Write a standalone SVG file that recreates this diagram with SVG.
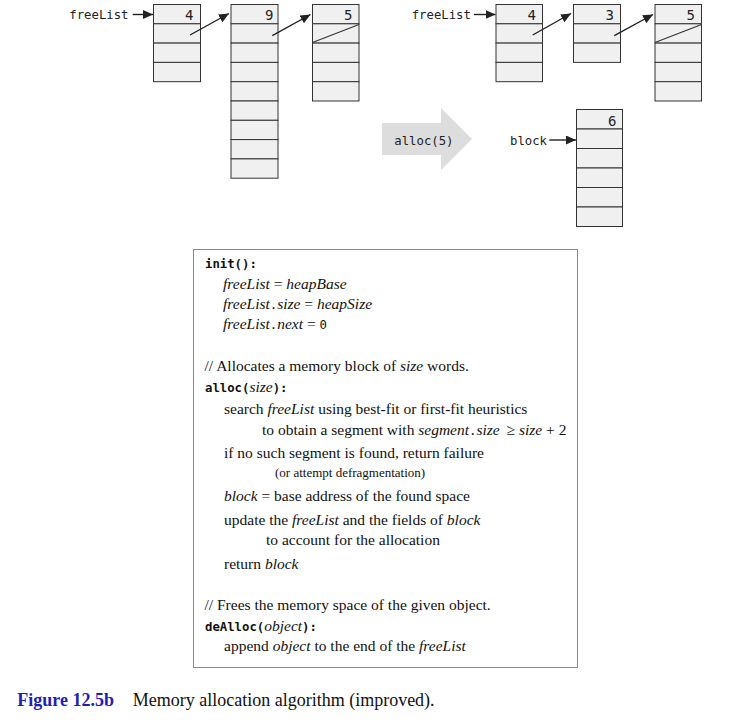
<svg xmlns="http://www.w3.org/2000/svg" width="730" height="722" viewBox="0 0 730 722">
<style>
.cell{fill:#f0f0f0;stroke:#333;stroke-width:1}
.mono{font-family:"DejaVu Sans Mono","Liberation Mono",monospace;font-size:12.3px;fill:#222}
.num{font-family:"DejaVu Sans Mono","Liberation Mono",monospace;font-size:14px;fill:#222;text-anchor:end}
.ser{font-family:"Liberation Serif","Times New Roman",serif;font-size:15.5px;fill:#111}
.sm{font-size:13px}
.it{font-style:italic}
.b{font-family:"DejaVu Sans Mono","Liberation Mono",monospace;font-size:12.3px;font-weight:bold}
.m{font-family:"DejaVu Sans Mono","Liberation Mono",monospace;font-size:12.3px}
.ptr{stroke:#222;stroke-width:1.4;fill:none}
.slash{stroke:#333;stroke-width:1.2;fill:none}
</style>
<defs>
<marker id="ah" markerUnits="userSpaceOnUse" markerWidth="11" markerHeight="10" refX="10" refY="4.5" orient="auto">
<path d="M0,0 L10,4.5 L0,9 Z" fill="#222"/>
</marker>
</defs>

<!-- left list -->
<g id="label-freelist-1"><text class="mono" x="69.3" y="18.5">freeList</text></g>
<g id="seg1">
<rect class="cell" x="153.5" y="4.5" width="47" height="19.3"/>
<rect class="cell" x="153.5" y="23.8" width="47" height="19.3"/>
<rect class="cell" x="153.5" y="43.1" width="47" height="19.3"/>
<rect class="cell" x="153.5" y="62.4" width="47" height="19.3"/>
<text class="num" x="193.5" y="19.5">4</text>
</g>
<g id="seg2">
<rect class="cell" x="231" y="4.5" width="47" height="19.3"/>
<rect class="cell" x="231" y="23.8" width="47" height="19.3"/>
<rect class="cell" x="231" y="43.1" width="47" height="19.3"/>
<rect class="cell" x="231" y="62.4" width="47" height="19.3"/>
<rect class="cell" x="231" y="81.7" width="47" height="19.3"/>
<rect class="cell" x="231" y="101" width="47" height="19.3"/>
<rect class="cell" x="231" y="120.3" width="47" height="19.3"/>
<rect class="cell" x="231" y="139.6" width="47" height="19.3"/>
<rect class="cell" x="231" y="158.9" width="47" height="19.3"/>
<text class="num" x="273.5" y="19.5">9</text>
</g>
<g id="seg3">
<rect class="cell" x="312.5" y="4.5" width="46.5" height="19.3"/>
<rect class="cell" x="312.5" y="23.8" width="46.5" height="19.3"/>
<rect class="cell" x="312.5" y="43.1" width="46.5" height="19.3"/>
<rect class="cell" x="312.5" y="62.4" width="46.5" height="19.3"/>
<rect class="cell" x="312.5" y="81.7" width="46.5" height="19.3"/>
<text class="num" x="352.5" y="19.5">5</text>
<line class="slash" x1="312.5" y1="42.5" x2="359" y2="24.5"/>
</g>

<!-- right list -->
<g id="label-freelist-2"><text class="mono" x="411.7" y="18.5">freeList</text></g>
<g id="segA">
<rect class="cell" x="496" y="4.5" width="46.5" height="19.3"/>
<rect class="cell" x="496" y="23.8" width="46.5" height="19.3"/>
<rect class="cell" x="496" y="43.1" width="46.5" height="19.3"/>
<rect class="cell" x="496" y="62.4" width="46.5" height="19.3"/>
<text class="num" x="536" y="19.5">4</text>
</g>
<g id="segB">
<rect class="cell" x="573.5" y="4.5" width="47" height="19.3"/>
<rect class="cell" x="573.5" y="23.8" width="47" height="19.3"/>
<rect class="cell" x="573.5" y="43.1" width="47" height="19.3"/>
<text class="num" x="614" y="19.5">3</text>
</g>
<g id="segC">
<rect class="cell" x="655" y="4.5" width="46.5" height="19.3"/>
<rect class="cell" x="655" y="23.8" width="46.5" height="19.3"/>
<rect class="cell" x="655" y="43.1" width="46.5" height="19.3"/>
<rect class="cell" x="655" y="62.4" width="46.5" height="19.3"/>
<rect class="cell" x="655" y="81.7" width="46.5" height="19.3"/>
<text class="num" x="695" y="19.5">5</text>
<line class="slash" x1="655" y1="42.5" x2="701.5" y2="24.5"/>
</g>

<!-- alloc arrow -->
<g id="alloc-arrow">
<polygon points="382,123 441,123 441,108 472,139 441,170 441,155 382,155" fill="#dddddd"/>
<text class="mono" x="394.3" y="144.5">alloc(5)</text>
</g>

<g id="label-block"><text class="mono" x="510" y="144.5">block</text></g>
<g id="block">
<rect class="cell" x="576.5" y="109.5" width="46" height="19.5"/>
<rect class="cell" x="576.5" y="129" width="46" height="19.5"/>
<rect class="cell" x="576.5" y="148.5" width="46" height="19.5"/>
<rect class="cell" x="576.5" y="168" width="46" height="19.5"/>
<rect class="cell" x="576.5" y="187.5" width="46" height="19.5"/>
<rect class="cell" x="576.5" y="207" width="46" height="19.5"/>
<text class="num" x="616.5" y="125.5">6</text>
</g>

<g id="connectors">
<line class="ptr" x1="132.7" y1="14.5" x2="153" y2="14.5" marker-end="url(#ah)"/>
<line class="ptr" x1="190" y1="35" x2="229" y2="13.5" marker-end="url(#ah)"/>
<line class="ptr" x1="272.3" y1="35.7" x2="310.5" y2="14.5" marker-end="url(#ah)"/>
<line class="ptr" x1="474" y1="14.5" x2="495.5" y2="14.5" marker-end="url(#ah)"/>
<line class="ptr" x1="532.7" y1="35" x2="571" y2="13.5" marker-end="url(#ah)"/>
<line class="ptr" x1="614.3" y1="35.7" x2="653" y2="14.5" marker-end="url(#ah)"/>
<line class="ptr" x1="549.3" y1="140" x2="576" y2="140" marker-end="url(#ah)"/>
</g>

<!-- code box -->
<g id="code">
<rect x="193.5" y="249.5" width="384" height="418" fill="#ffffff" stroke="#8a8a8a" stroke-width="1"/>
<text class="b" x="205" y="268" fill="#111">init():</text>
<text class="ser" x="223" y="289"><tspan class="it">freeList</tspan> = <tspan class="it">heapBase</tspan></text>
<text class="ser" x="223" y="309"><tspan class="it">freeList</tspan><tspan class="m">.</tspan><tspan class="it">size</tspan> = <tspan class="it">heapSize</tspan></text>
<text class="ser" x="223" y="329"><tspan class="it">freeList</tspan><tspan class="m">.</tspan><tspan class="it">next</tspan> = <tspan class="m">0</tspan></text>
<text class="ser" x="204.5" y="371">// Allocates a memory block of <tspan class="it">size</tspan> words.</text>
<text class="ser" x="205" y="392"><tspan class="b">alloc(</tspan><tspan class="it">size</tspan><tspan class="b">):</tspan></text>
<text class="ser" x="224" y="414">search <tspan class="it">freeList</tspan> using best-fit or first-fit heuristics</text>
<text class="ser" x="262" y="435">to obtain a segment with <tspan class="it">segment</tspan><tspan class="m">.</tspan><tspan class="it">size</tspan> <tspan dx="3">≥</tspan> <tspan class="it">size</tspan> + 2</text>
<text class="ser" x="224" y="458">if no such segment is found, return failure</text>
<text class="ser sm" x="275" y="477">(or attempt defragmentation)</text>
<text class="ser" x="224" y="501"><tspan class="it">block</tspan> = base address of the found space</text>
<text class="ser" x="224" y="525">update the <tspan class="it">freeList</tspan> and the fields of <tspan class="it">block</tspan></text>
<text class="ser" x="266" y="545">to account for the allocation</text>
<text class="ser" x="224" y="569">return <tspan class="it">block</tspan></text>
<text class="ser" x="204.5" y="610">// Frees the memory space of the given object.</text>
<text class="ser" x="205" y="631"><tspan class="b">deAlloc(</tspan><tspan class="it">object</tspan><tspan class="b">):</tspan></text>
<text class="ser" x="224" y="651">append <tspan class="it">object</tspan> to the end of the <tspan class="it">freeList</tspan></text>
</g>

<g id="caption">
<text x="17.3" y="705.5" font-family="'Liberation Serif','Times New Roman',serif" font-size="18" font-weight="bold" fill="#1f1fb0">Figure 12.5b</text>
<text x="132.7" y="705.5" font-family="'Liberation Serif','Times New Roman',serif" font-size="18" fill="#111">Memory allocation algorithm (improved).</text>
</g>
</svg>
